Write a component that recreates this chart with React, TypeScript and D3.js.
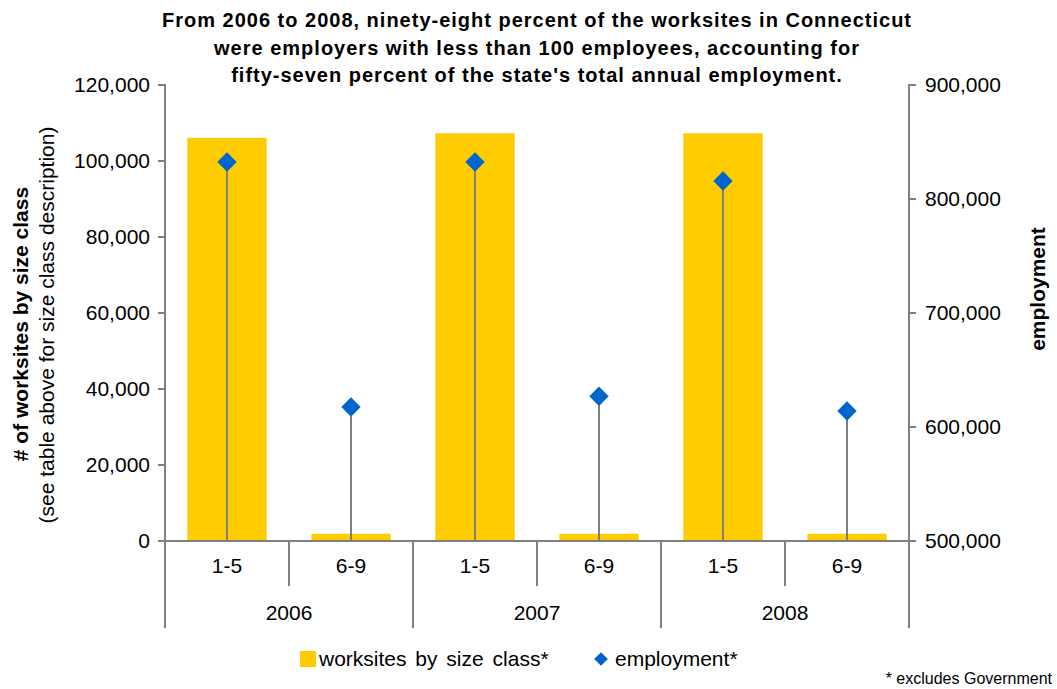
import React from 'react';
import * as d3 from 'd3';

const years = ['2006', '2007', '2008'];
const sizeClasses = ['1-5', '6-9'];
const worksites = [106100, 1900, 107300, 1900, 107300, 1900];
const employment = [832500, 617500, 832500, 627000, 815800, 614000];
const leftTicks = [0, 20000, 40000, 60000, 80000, 100000, 120000];
const rightTicks = [500000, 600000, 700000, 800000, 900000];
const titleLines = [
  'From 2006 to 2008, ninety-eight percent of the worksites in Connecticut',
  'were employers with less than 100 employees, accounting for',
  "fifty-seven percent of the state's total annual employment.",
];

const W = 1057, H = 689;
const left = 165, right = 909, top = 85, bottom = 541;
const AX = '#808080';
const BAR = '#FFCC00';
const DIA = '#0066CC';
const FONT = '"Liberation Sans", Arial, Helvetica, sans-serif';

export default function App() {
  const slots = years.flatMap((y) => sizeClasses.map((s) => `${y}|${s}`));
  const x = d3.scaleBand<string>().domain(slots).range([left, right]).padding(0);
  const xYear = d3.scaleBand<string>().domain(years).range([left, right]).padding(0);
  const yL = d3.scaleLinear().domain([0, 120000]).range([bottom, top]);
  const yR = d3.scaleLinear().domain([500000, 900000]).range([bottom, top]);
  const fmt = d3.format(',');
  const bw = x.bandwidth() * 0.64;
  const diamond = d3.symbol().type(d3.symbolDiamond2).size(240)()!;
  const legDiamond = d3.symbol().type(d3.symbolDiamond2).size(120)()!;

  return (
    <svg width={W} height={H} style={{ position: 'absolute', left: 0, top: 0, background: '#fff' }} fontFamily={FONT}>
      {titleLines.map((t, i) => (
        <text key={i} x={537} y={27 + i * 27.5} textAnchor="middle" fontSize={20} fontWeight="bold" letterSpacing={1} fill="#000">{t}</text>
      ))}

      {/* bars */}
      {slots.map((s, i) => (
        <rect key={s} x={x(s)! + x.bandwidth() / 2 - bw / 2} y={yL(worksites[i])} width={bw} height={bottom - yL(worksites[i])} fill={BAR} />
      ))}

      {/* drop lines */}
      {slots.map((s, i) => (
        <line key={s} x1={x(s)! + x.bandwidth() / 2} x2={x(s)! + x.bandwidth() / 2} y1={yR(employment[i])} y2={bottom} stroke={AX} strokeWidth={2} />
      ))}

      {/* left axis */}
      <line x1={left} x2={left} y1={top} y2={bottom} stroke={AX} strokeWidth={2} />
      {leftTicks.map((t) => (
        <g key={t}>
          <line x1={left - 7} x2={left + 1} y1={yL(t)} y2={yL(t)} stroke={AX} strokeWidth={2} />
          <text x={150} y={yL(t)} dy="0.35em" textAnchor="end" fontSize={21} fill="#000">{fmt(t)}</text>
        </g>
      ))}

      {/* right axis */}
      <line x1={right} x2={right} y1={top} y2={bottom} stroke={AX} strokeWidth={2} />
      {rightTicks.map((t) => (
        <g key={t}>
          <line x1={right - 1} x2={right + 7} y1={yR(t)} y2={yR(t)} stroke={AX} strokeWidth={2} />
          <text x={925} y={yR(t)} dy="0.35em" textAnchor="start" fontSize={21} fill="#000">{fmt(t)}</text>
        </g>
      ))}

      {/* x axis */}
      <line x1={left - 7} x2={right + 7} y1={bottom} y2={bottom} stroke={AX} strokeWidth={2} />
      {slots.map((s, i) => (
        i % 2 === 1 ? (
          <line key={'m' + s} x1={x(s)!} x2={x(s)!} y1={bottom} y2={586} stroke={AX} strokeWidth={2} />
        ) : null
      ))}
      {[...years.map((y) => xYear(y)!), right].map((px, i) => (
        <line key={'M' + i} x1={px} x2={px} y1={bottom} y2={628} stroke={AX} strokeWidth={2} />
      ))}
      {slots.map((s) => (
        <text key={'l' + s} x={x(s)! + x.bandwidth() / 2} y={566} dy="0.35em" textAnchor="middle" fontSize={21} fill="#000">{s.split('|')[1]}</text>
      ))}
      {years.map((y) => (
        <text key={'y' + y} x={xYear(y)! + xYear.bandwidth() / 2} y={613} dy="0.35em" textAnchor="middle" fontSize={21} fill="#000">{y}</text>
      ))}

      {/* diamonds */}
      {slots.map((s, i) => (
        <path key={'d' + s} d={diamond} transform={`translate(${x(s)! + x.bandwidth() / 2},${yR(employment[i])})`} fill={DIA} />
      ))}

      {/* axis titles */}
      <text transform={`translate(28,${324}) rotate(-90)`} textAnchor="middle" fontSize={21} fontWeight="bold" fill="#000"># of worksites by size class</text>
      <text transform={`translate(54,${325}) rotate(-90)`} textAnchor="middle" fontSize={21} fill="#000">(see table above for size class description)</text>
      <text transform={`translate(1045,${289}) rotate(-90)`} textAnchor="middle" fontSize={21} fontWeight="bold" fill="#000">employment</text>

      {/* legend */}
      <rect x={300} y={651} width={16} height={16} fill={BAR} />
      <text x={319} y={659} dy="0.35em" fontSize={21} wordSpacing={3} fill="#000">worksites by size class*</text>
      <path d={legDiamond} transform="translate(601,659)" fill={DIA} />
      <text x={615} y={659} dy="0.35em" fontSize={21} fill="#000">employment*</text>

      <text x={1052} y={684} textAnchor="end" fontSize={16} fill="#000">* excludes Government</text>
    </svg>
  );
}
